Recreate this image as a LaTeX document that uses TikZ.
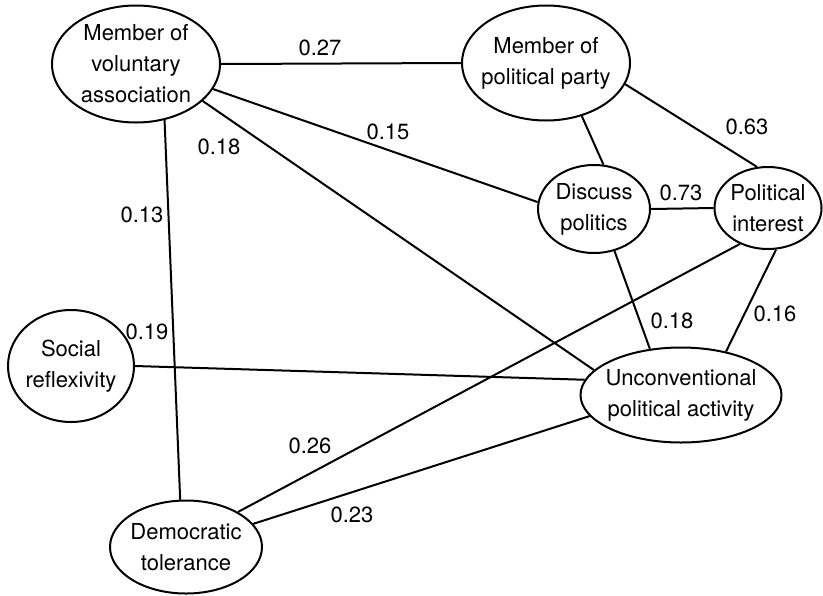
\documentclass[tikz,border=0pt]{standalone}
\usepackage{fontspec}
\setmainfont{TeX Gyre Heros}
\usetikzlibrary{shapes.geometric}

\begin{document}
\begin{tikzpicture}[x=0.5pt, y=-0.5pt,
    var/.style  = {ellipse, draw, line width=1pt, align=center, inner sep=-3pt, font=\fontsize{11}{15.5}\selectfont},
    link/.style = {line width=1pt},
    coef/.style = {inner sep=0, font=\fontsize{11}{13}\selectfont}]
    \useasboundingbox (0,0) rectangle (823,595);

    \node[var, minimum width=84pt,   minimum height=58.5pt] (vol)    at (136,64)  {Member of\\voluntary\\association};
    \node[var, minimum width=84pt,   minimum height=57.5pt] (party)  at (546,63)  {Member of\\political party};
    \node[var, minimum width=56pt,   minimum height=44pt]   (disc)   at (594,209) {Discuss\\politics};
    \node[var, minimum width=53.5pt, minimum height=41pt]   (inter)  at (768,208) {Political\\interest};
    \node[var, minimum width=63pt,   minimum height=56pt]   (social) at (71,366)  {Social\\reflexivity};
    \node[var, minimum width=100.5pt,minimum height=47.5pt] (unconv) at (681,395) {Unconventional\\political activity};
    \node[var, minimum width=76pt,   minimum height=46.5pt] (demo)   at (186,547) {Democratic\\tolerance};

    \draw[link] (vol.0)     -- (party.180);
    \draw[link] (vol.-18)   -- (disc.173);
    \draw[link] (vol.-29)   -- (unconv.164);
    \draw[link] (vol.-63)   -- (demo.97);
    \draw[link] (party.-56) -- (disc.78);
    \draw[link] (party.-15) -- (inter.105);
    \draw[link] (disc.0)    -- (inter.180);
    \draw[link] (disc.-64)  -- (unconv.124);
    \draw[link] (inter.-79) -- (unconv.44);
    \draw[link] (inter.-128)-- (demo.34);
    \draw[link] (social.0)  -- (unconv.171);
    \draw[link] (demo.19)   -- (unconv.193);

    \node[coef] (c27)  at (320,48)  {0.27};
    \node[coef] (c15)  at (388,132) {0.15};
    \node[coef] (c18a) at (219,147) {0.18};
    \node[coef] (c13)  at (142,215) {0.13};
    \node[coef] (c19)  at (147,332) {0.19};
    \node[coef] (c63)  at (747,127) {0.63};
    \node[coef] (c73)  at (681,193) {0.73};
    \node[coef] (c18b) at (672,321) {0.18};
    \node[coef] (c16)  at (775,314) {0.16};
    \node[coef] (c26)  at (310,446) {0.26};
    \node[coef] (c23)  at (352,515) {0.23};
  \end{tikzpicture}
\end{document}
